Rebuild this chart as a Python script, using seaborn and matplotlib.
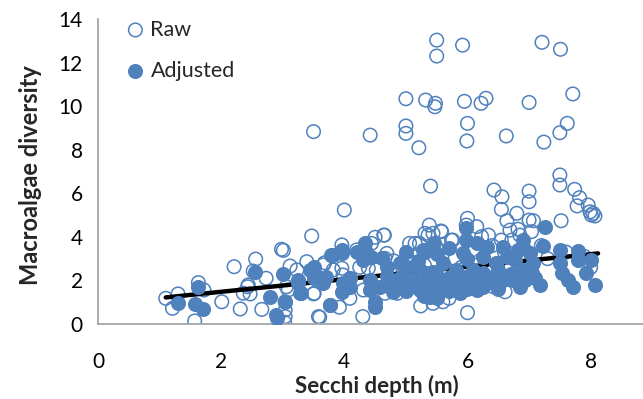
import matplotlib
matplotlib.use("Agg")
import matplotlib.pyplot as plt
from matplotlib.ticker import MultipleLocator, FuncFormatter
import seaborn as sns
import pandas as pd

# Raw macroalgae diversity against Secchi depth
raw_x = [5.50, 5.50, 5.92, 7.21, 7.51, 5.00, 5.32, 5.48, 5.47, 5.95, 6.22, 6.30, 7.00, 7.71,
         5.00, 5.00, 6.00, 7.62, 7.50, 4.42, 6.63, 7.24, 5.99, 3.50, 5.21,
         5.40, 6.43, 6.56, 6.55, 7.00, 7.00, 7.50, 7.50, 7.74, 7.82, 7.78, 7.96, 7.99, 8.07, 8.01,
         7.52, 6.80, 6.64, 7.00, 7.07, 6.00, 5.38, 5.74, 5.57, 4.65, 5.22,
         4.00, 3.47, 2.98, 3.01, 2.56, 2.21, 3.96, 3.39,
         1.10, 1.30, 1.21, 1.63, 1.72, 1.57, 2.01, 2.31, 2.52, 2.73, 2.43, 2.36, 2.47, 2.66,
         3.12, 3.23, 3.51, 3.58, 3.06, 3.04, 3.04, 3.04, 3.03, 3.09, 3.66, 2.44,
         4.64, 4.50, 5.31, 5.36, 5.44, 5.58, 5.15, 5.76, 5.98, 6.15, 3.68, 5.01, 4.44, 4.66, 4.20,
         3.60, 4.30, 3.92, 5.24, 5.44, 6.00, 5.70, 3.50, 4.86, 4.09, 5.06, 4.69, 3.82, 3.96, 3.98,
         4.25, 4.39, 4.52, 4.74, 4.31, 4.66, 5.60,
         8.04, 6.61, 6.42, 6.69, 6.82, 6.85, 6.72, 6.55, 6.34, 6.23, 7.04,
         5.20, 5.50, 5.80, 6.10, 6.40, 6.90, 7.30, 7.60, 7.90, 8.00, 5.30, 6.20, 6.60, 4.80, 5.90,
         7.20, 6.70]
raw_y = [13.03, 12.30, 12.80, 12.93, 12.61, 10.34, 10.28, 10.13, 9.97, 10.22, 10.13, 10.36, 10.17, 10.56,
         9.09, 8.75, 9.21, 9.21, 8.78, 8.67, 8.63, 8.35, 8.40, 8.83, 8.09,
         6.33, 6.15, 5.84, 5.26, 6.10, 5.61, 6.84, 6.38, 6.18, 5.80, 5.42, 5.46, 5.15, 4.96, 5.00,
         4.74, 5.08, 4.74, 4.77, 4.74, 4.85, 4.54, 3.85, 4.27, 4.08, 3.70,
         5.23, 4.04, 3.43, 3.38, 2.98, 2.63, 3.63, 2.86,
         1.18, 1.38, 0.72, 1.90, 1.56, 0.14, 1.02, 0.69, 2.43, 2.10, 1.71, 1.41, 1.38, 0.67,
         2.66, 2.48, 1.41, 0.34, 1.71, 1.02, 0.64, 0.34, 0.08, 1.56, 2.71, 1.79,
         4.08, 3.98, 4.16, 4.08, 4.16, 4.24, 3.70, 3.85, 4.54, 4.47, 2.81, 3.09, 3.70, 3.01, 3.40,
         0.31, 0.34, 0.77, 0.83, 0.95, 0.52, 1.18, 1.38, 1.41, 1.18, 3.70, 3.24, 2.48, 2.56, 2.25,
         2.60, 2.56, 2.48, 2.48, 1.56, 1.41, 1.02,
         5.08, 1.48, 1.71, 4.31, 4.35, 4.08, 3.85, 3.85, 4.08, 4.01, 4.24,
         3.20, 3.50, 3.00, 3.30, 3.60, 3.20, 3.00, 3.30, 3.10, 2.60, 2.70, 2.90, 3.30, 2.90, 2.60,
         3.60, 2.60]

# Adjusted macroalgae diversity against Secchi depth
adj_x = [1.30, 1.63, 1.57, 1.71, 2.55, 2.79, 3.01, 3.04, 2.89, 2.90, 3.25, 3.28, 3.44, 3.50,
         3.25, 3.30, 3.71, 3.66, 3.76, 3.82, 3.96, 3.98, 4.09, 4.31, 4.36,
         4.33, 4.20, 3.96, 3.79, 4.44, 4.61, 3.50, 3.52, 3.66, 4.09, 4.42, 4.06, 3.96, 4.50, 4.50,
         3.77, 4.42, 4.58, 4.79, 4.90, 5.01, 5.23, 5.33, 5.44, 5.06, 5.23, 5.39, 5.50, 5.28, 5.31,
         5.61, 5.71, 5.82, 5.93, 6.04, 5.88, 5.98, 5.98, 5.93,
         7.26, 7.22, 7.50, 7.80, 8.01, 7.50, 7.53, 7.63, 7.72, 7.80, 7.93, 8.07, 7.18, 7.04, 7.07,
         7.01, 6.90, 6.90, 6.93, 6.74, 6.58, 6.42, 6.25, 6.09, 6.77, 6.64, 6.47, 6.25, 6.31, 6.15,
         6.58, 6.82, 6.25, 6.15, 6.85, 5.39,
         4.70, 4.80, 5.00, 5.10, 5.20, 5.40, 5.50, 5.60, 5.70, 5.80, 6.00, 6.10, 6.30, 6.50, 6.70,
         6.90, 7.10, 5.30, 5.50, 4.70, 5.20, 5.60, 6.00, 6.50, 5.45, 5.50, 5.70, 5.00, 4.90]
adj_y = [0.95, 1.68, 0.92, 0.67, 2.40, 1.25, 2.29, 1.02, 0.41, 0.26, 2.02, 1.41, 2.48, 2.10,
         1.87, 1.41, 2.17, 1.87, 0.87, 3.17, 3.24, 1.87, 1.71, 2.94, 3.32,
         3.70, 3.32, 3.40, 3.17, 3.09, 3.01, 2.63, 2.17, 2.02, 2.10, 2.02, 1.71, 1.48, 1.02, 0.79,
         0.87, 1.56, 1.71, 1.48, 2.10, 2.63, 2.48, 2.33, 2.40, 1.71, 1.56, 1.56, 1.56, 3.40, 3.32,
         2.02, 2.17, 2.48, 2.17, 2.02, 1.41, 4.39, 3.85, 3.24,
         4.47, 3.59, 3.40, 3.36, 2.94, 2.79, 2.33, 2.02, 1.71, 2.94, 2.33, 1.79, 1.79, 2.33, 2.79,
         3.24, 3.55, 3.85, 2.02, 2.02, 2.02, 2.17, 2.33, 2.48, 2.94, 3.09, 2.79, 3.09, 3.55, 3.70,
         3.55, 3.40, 1.71, 1.56, 1.71, 1.25,
         2.20, 1.90, 1.50, 2.00, 1.80, 2.00, 2.20, 1.70, 1.50, 1.90, 1.60, 2.20, 1.90, 1.60, 2.30,
         2.50, 2.10, 1.30, 1.20, 2.60, 2.90, 2.80, 3.00, 2.50, 3.70, 3.20, 3.50, 3.30, 2.80]

# Linear trend through the adjusted values
trend_x = [1.10, 8.12]
trend_y = [1.22, 3.24]

y_ticks = [0, 2, 4, 6, 8, 10, 12, 14]

sns.set_theme(style="white")
plt.rcParams["font.family"] = ["Lato", "DejaVu Sans"]

blue = "#4F81BD"
axis_grey = "#A6A6A6"

raw = pd.DataFrame({"depth": raw_x, "diversity": raw_y})
adj = pd.DataFrame({"depth": adj_x, "diversity": adj_y})
trend = pd.DataFrame({"depth": trend_x, "diversity": trend_y})

W, H = 643, 399
fig = plt.figure(figsize=(W / 100, H / 100), dpi=100)
ax = fig.add_axes([98 / W, 1 - 324 / H, 1 - 98 / W, (324 - 19) / H])

sns.scatterplot(data=raw, x="depth", y="diversity", ax=ax, s=95,
                facecolors="none", edgecolor=blue, linewidth=1.1,
                label="Raw", zorder=2)
sns.lineplot(data=trend, x="depth", y="diversity", ax=ax, color="black",
             linewidth=3.2, zorder=3, legend=False)
sns.scatterplot(data=adj, x="depth", y="diversity", ax=ax, s=95,
                color=blue, edgecolor=blue, linewidth=1.1,
                label="Adjusted", zorder=4)

ax.set_xlim(0, 8.85)
ax.set_ylim(0, 14)
ax.xaxis.set_major_locator(MultipleLocator(1))
ax.xaxis.set_major_formatter(FuncFormatter(lambda v, p: f"{int(round(v))}" if int(round(v)) % 2 == 0 else ""))
ax.set_yticks(y_ticks)

for side in ("top", "right"):
    ax.spines[side].set_visible(False)
for side in ("left", "bottom"):
    ax.spines[side].set_color(axis_grey)
    ax.spines[side].set_linewidth(1.3)

ax.tick_params(axis="both", which="major", direction="out", length=5, width=1.3,
               color=axis_grey, labelsize=15, labelcolor="black", pad=6)
ax.tick_params(axis="x", pad=15)

ax.set_xlabel("Secchi depth (m)", fontsize=16, fontweight="bold")
ax.set_ylabel("Macroalgae diversity", fontsize=17, fontweight="bold")
ax.xaxis.set_label_coords((377 - 98) / 545, (324 - 375) / 305)
ax.yaxis.set_label_coords((42 - 98) / 545, (324 - 175) / 305)

fs_leg = 15.5
ax.legend(loc="upper left", bbox_to_anchor=(116 / W, 1 - 11 / H), bbox_transform=fig.transFigure,
          frameon=False, fontsize=fs_leg, labelspacing=1.0, handlelength=1.0,
          handletextpad=0.2, borderaxespad=0)

fig.savefig("out.png", dpi=100)
